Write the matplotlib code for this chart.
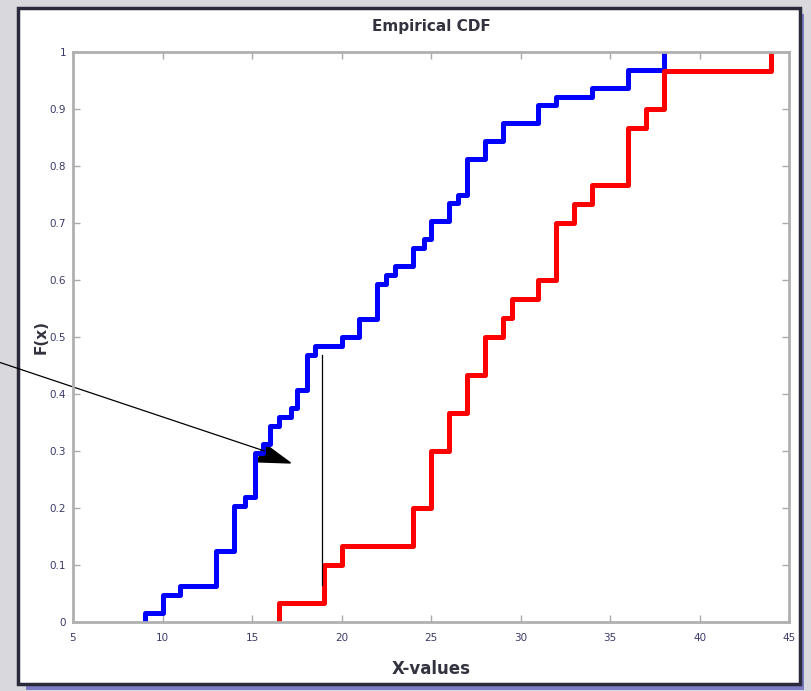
import matplotlib.pyplot as plt
from matplotlib.patches import Rectangle, Polygon

# step positions and cumulative counts
blue_x = [9.0, 10.0, 11.0, 13.0, 14.0, 14.6, 15.15, 15.6, 16.0, 16.5, 17.2, 17.5,
          18.1, 18.5, 20.0, 21.0, 22.0, 22.5, 23.0, 24.0, 24.6, 25.0, 26.0, 26.5,
          27.0, 28.0, 29.0, 31.0, 32.0, 34.0, 36.0, 38.0]
blue_count = [1, 3, 4, 8, 13, 14, 19, 20, 22, 23, 24, 26, 30, 31, 32, 34, 38, 39,
              40, 42, 43, 45, 47, 48, 52, 54, 56, 58, 59, 60, 62, 64]
blue_n = 64

red_x = [16.5, 19.0, 20.0, 24.0, 25.0, 26.0, 27.0, 28.0, 29.0, 29.5, 31.0, 32.0,
         33.0, 34.0, 36.0, 37.0, 38.0, 44.0]
red_count = [1, 3, 4, 6, 9, 11, 13, 15, 16, 17, 18, 21, 22, 23, 26, 27, 29, 30]
red_n = 30

x_ticks = [5, 10, 15, 20, 25, 30, 35, 40, 45]
y_ticks = [0, 0.1, 0.2, 0.3, 0.4, 0.5, 0.6, 0.7, 0.8, 0.9, 1]
y_tick_labels = ["0", "0.1", "0.2", "0.3", "0.4", "0.5", "0.6", "0.7", "0.8", "0.9", "1"]

fig = plt.figure(figsize=(8.12, 6.91), dpi=100, facecolor="#d9d9dd")

# white panel with dark border and blue shadow, kept behind the axes
fig.patches.append(Rectangle((26 / 812, 1 - 690 / 691), 778 / 812, 676 / 691,
                             transform=fig.transFigure, facecolor="#7c7cc4",
                             edgecolor="none", zorder=-2))
fig.patches.append(Rectangle((18 / 812, 1 - 684 / 691), 782 / 812, 676 / 691,
                             transform=fig.transFigure, facecolor="white",
                             edgecolor="#2a2a3a", linewidth=2.5, zorder=-1))

ax = fig.add_axes([73 / 812, 1 - 622 / 691, 716 / 812, 570 / 691])
ax.set_facecolor("white")

ax.step([blue_x[0]] + blue_x, [0] + [c / blue_n for c in blue_count],
        where="post", color="#0000ff", linewidth=3.6)
ax.step([red_x[0]] + red_x, [0] + [c / red_n for c in red_count],
        where="post", color="#ff0000", linewidth=3.6)

# annotation arrow and vertical marker line
ax.plot([0.95, 15.7], [0.455, 0.3], color="black", linewidth=0.9, clip_on=False)
ax.add_patch(Polygon([[15.31, 0.281], [17.15, 0.279], [15.64, 0.314]],
                     closed=True, facecolor="black", edgecolor="black"))
ax.plot([18.9, 18.9], [0.065, 0.468], color="black", linewidth=0.9)

ax.set_xlim(5, 45)
ax.set_ylim(0, 1)
ax.set_xticks(x_ticks)
ax.set_yticks(y_ticks)
ax.set_yticklabels(y_tick_labels)
ax.tick_params(direction="in", length=5, width=1, color="#aaaaaa",
               labelsize=7.5, labelcolor="#3a3a6a", top=True, right=True)
ax.tick_params(axis="x", pad=8)
ax.tick_params(axis="y", pad=5)
for s in ax.spines.values():
    s.set_color("#b0b0b0")
    s.set_linewidth(2)

ax.set_title("Empirical CDF", fontsize=11, fontweight="bold", color="#33333f", pad=15)
ax.set_xlabel("X-values", fontsize=12, fontweight="bold", color="#33333f", labelpad=12)
ax.set_ylabel("F(x)", fontsize=11, fontweight="bold", color="#33333f", labelpad=1)

fig.savefig("out.png", dpi=100, facecolor=fig.get_facecolor())
